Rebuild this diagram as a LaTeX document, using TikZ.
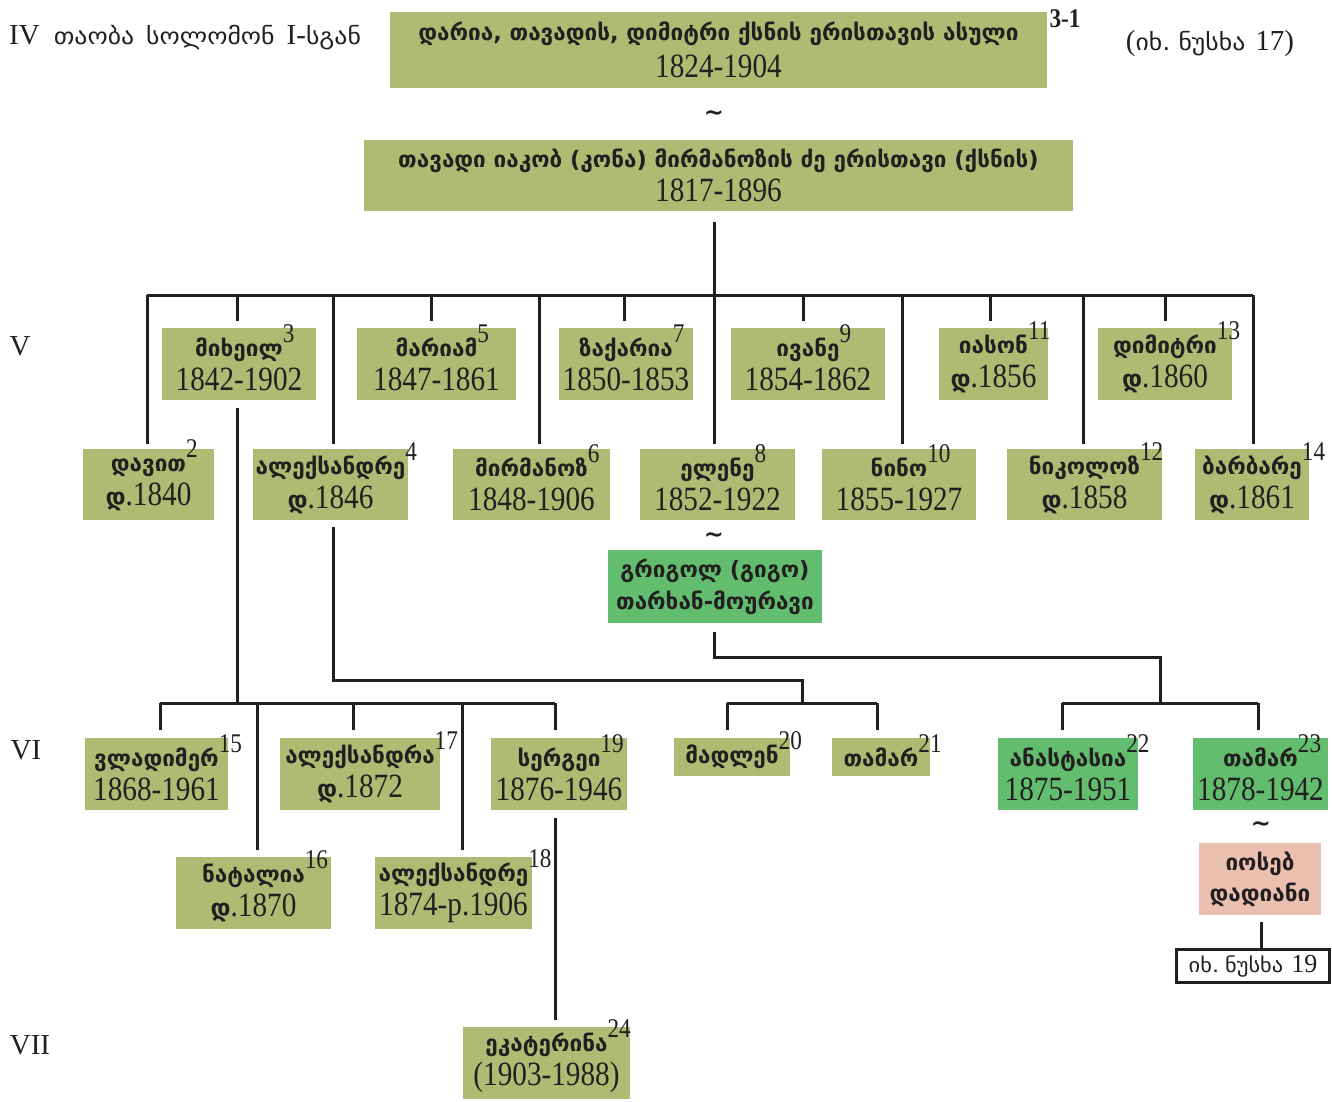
\documentclass[tikz,border=0pt]{standalone}
\usepackage{fontspec}
\setmainfont{Liberation Serif}
\newfontfamily\dig{Liberation Serif}[FakeStretch=0.86]
\newfontfamily\geo{DejaVu Sans}
\newfontfamily\geow{DejaVu Sans}[FakeStretch=1.12]
\definecolor{olv}{RGB}{174,187,114}
\definecolor{grn}{RGB}{98,189,110}
\definecolor{pnk}{RGB}{236,192,176}
\definecolor{ink}{RGB}{35,31,32}
\newcommand\gn[1]{{\geo\bfseries\fontsize{22.5}{34}\selectfont #1}}
\newcommand\gd{{\geo\bfseries\fontsize{24}{34}\selectfont დ}}
\newcommand\nm[2]{\gn{#1}\rlap{\smash{\raisebox{14pt}{\dig\fontsize{27}{27}\selectfont #2}}}}
\tikzset{
  pbox/.style={rectangle, fill=olv, inner sep=0pt, align=center, text=ink,
    font=\dig\fontsize{34}{34}\selectfont},
  gbox/.style={pbox, fill=grn},
  kbox/.style={pbox, fill=pnk},
  lnk/.style={draw=ink, line width=3pt},
  gen/.style={font=\fontsize{29}{29}\selectfont, text=ink, inner sep=0pt},
  tld/.style={font=\geo\bfseries\fontsize{24}{24}\selectfont, text=ink, inner sep=0pt},
  sup/.style={font=\dig\bfseries\fontsize{27}{27}\selectfont, text=ink, inner sep=0pt}
}
\begin{document}
\begin{tikzpicture}[x=1pt,y=-1pt]
\useasboundingbox (0,0) rectangle (1332,1101);
% header texts
\node[gen, anchor=west] (hl) at (9,38) {IV\hspace{14pt}{\geow\fontsize{23}{23}\selectfont თაობა\hspace{12pt}სოლომონ}\hspace{12pt}I-{\geow\fontsize{23}{23}\selectfont სგან}};
\node[gen, anchor=center] (hr) at (1210,44) {({\geow\fontsize{23}{23}\selectfont იხ.\hspace{8pt}ნუსხა}\hspace{10pt}17)};
% generations
\node[gen] (gV) at (20,346) {V};
\node[gen] (gVI) at (26,750) {VI};
\node[gen] (gVII) at (30,1045) {VII};
% top couple
\node[pbox, minimum width=657, minimum height=76] (t1) at (718.5,50) {\gn{დარია, თავადის, დიმიტრი ქსნის ერისთავის ასული}\\[3pt]1824-1904};
\node[sup] (t1n) at (1065,19) {3-1};
\node[tld] (tl1) at (714,116) {\textasciitilde};
\node[pbox, minimum width=709, minimum height=71] (t2) at (718.5,175.5) {\gn{თავადი იაკობ (კონა) მირმანოზის ძე ერისთავი (ქსნის)}\\1817-1896};
% generation V, upper row
\node[pbox, minimum width=154, minimum height=72] (p3) at (239,364) {\nm{მიხეილ}{3}\\1842-1902};
\node[pbox, minimum width=159, minimum height=72] (p5) at (436.5,364) {\nm{მარიამ}{5}\\1847-1861};
\node[pbox, minimum width=134, minimum height=72] (p7) at (626,364) {\nm{ზაქარია}{7}\\1850-1853};
\node[pbox, minimum width=154, minimum height=72] (p9) at (808,364) {\nm{ივანე}{9}\\1854-1862};
\node[pbox, minimum width=109, minimum height=72] (p11) at (993.5,364) {\nm{იასონ}{11}\\\gd.1856};
\node[pbox, minimum width=134, minimum height=72] (p13) at (1165,364) {\nm{დიმიტრი}{13}\\\gd.1860};
% generation V, lower row
\node[pbox, minimum width=131, minimum height=71] (p2) at (148.5,484.5) {\nm{დავით}{2}\\\gd.1840};
\node[pbox, minimum width=155, minimum height=71] (p4) at (330.5,484.5) {\nm{ალექსანდრე}{4}\\\gd.1846};
\node[pbox, minimum width=157, minimum height=71] (p6) at (531.5,484.5) {\nm{მირმანოზ}{6}\\1848-1906};
\node[pbox, minimum width=155, minimum height=71] (p8) at (717.5,484.5) {\nm{ელენე}{8}\\1852-1922};
\node[pbox, minimum width=154, minimum height=71] (p10) at (899,484.5) {\nm{ნინო}{10}\\1855-1927};
\node[pbox, minimum width=155, minimum height=71] (p12) at (1084.5,484.5) {\nm{ნიკოლოზ}{12}\\\gd.1858};
\node[pbox, minimum width=114, minimum height=71] (p14) at (1252,484.5) {\nm{ბარბარე}{14}\\\gd.1861};
\node[tld] (tl2) at (714,538) {\textasciitilde};
\node[gbox, minimum width=214, minimum height=73, font=\fontsize{23}{32}\selectfont] (g) at (715,586.5) {\gn{გრიგოლ (გიგო)}\\\gn{თარხან-მოურავი}};
% generation VI
\node[pbox, minimum width=143, minimum height=72] (p15) at (156.5,774) {\nm{ვლადიმერ}{15}\\1868-1961};
\node[pbox, minimum width=160, minimum height=72] (p17) at (360,774) {\nm{ალექსანდრა}{17}\\\gd.1872};
\node[pbox, minimum width=136, minimum height=72] (p19) at (559,774) {\nm{სერგეი}{19}\\1876-1946};
\node[pbox, minimum width=116, minimum height=38] (p20) at (732,757) {\nm{მადლენ}{20}};
\node[pbox, minimum width=98, minimum height=38] (p21) at (881,757) {\nm{თამარ}{21}};
\node[gbox, minimum width=140, minimum height=72] (p22) at (1068,774) {\nm{ანასტასია}{22}\\1875-1951};
\node[gbox, minimum width=135, minimum height=72] (p23) at (1260.5,774) {\nm{თამარ}{23}\\1878-1942};
\node[pbox, minimum width=155, minimum height=72] (p16) at (253.5,893) {\nm{ნატალია}{16}\\\gd.1870};
\node[pbox, minimum width=157, minimum height=72] (p18) at (453.5,893) {\nm{ალექსანდრე}{18}\\1874-p.1906};
\node[tld] (tl3) at (1261,827) {\textasciitilde};
\node[kbox, minimum width=122, minimum height=72, font=\fontsize{23}{31}\selectfont] (jd) at (1260,879) {\gn{იოსებ}\\\gn{დადიანი}};
\node[draw=ink, line width=3pt, fill=white, minimum width=153, minimum height=33, inner sep=0pt, text=ink,
  font=\fontsize{26}{26}\selectfont] (ref) at (1253,966) {{\geow\fontsize{20}{20}\selectfont იხ.\hspace{6pt}ნუსხა}\hspace{8pt}19};
% generation VII
\node[pbox, minimum width=167, minimum height=72] (p24) at (546.5,1063) {\nm{ეკატერინა}{24}\\(1903-1988)};

% connectors: main family
\coordinate (bar) at (714,295);
\draw[lnk] ([yshift=-11pt]t2.south -| bar) -- (bar);
\draw[lnk] (147,295) coordinate (barL) -- (1253,295) coordinate (barR);
\foreach \p/\x in {p3/237,p5/431,p7/624,p9/803,p11/990,p13/1165}{
  \draw[lnk] (\x,295) -- ([yshift=7pt]\p.north -| \x,0);
}
\foreach \p/\x in {p2/147,p4/333,p6/539,p8/714,p10/902,p12/1083,p14/1253}{
  \draw[lnk] (\x,295) -- ([yshift=5pt]\p.north -| \x,0);
}
% Mikheil's children
\coordinate (mk) at (237,703);
\draw[lnk] ([yshift=-8pt]p3.south -| mk) -- (mk);
\draw[lnk] (160,703) -- (555,703);
\foreach \p/\x in {p15/160,p17/353,p19/555}{
  \draw[lnk] (\x,703) -- ([yshift=8pt]\p.north -| \x,0);
}
\foreach \p/\x in {p16/257,p18/462}{
  \draw[lnk] (\x,703) -- ([yshift=7pt]\p.north -| \x,0);
}
% Aleksandre's children
\draw[lnk] ([yshift=-7pt]p4.south -| 333,0) -- (333,680) -- (802,680) -- (802,703);
\draw[lnk] (727,703) -- (877,703);
\draw[lnk] (727,703) -- ([yshift=8pt]p20.north -| 727,0);
\draw[lnk] (877,703) -- ([yshift=8pt]p21.north -| 877,0);
% Grigol & Elene's children
\draw[lnk] ([yshift=-9pt]g.south -| 714,0) -- (714,657) -- (1160,657) -- (1160,703);
\draw[lnk] (1062,703) -- (1258,703);
\draw[lnk] (1062,703) -- ([yshift=8pt]p22.north -| 1062,0);
\draw[lnk] (1258,703) -- ([yshift=8pt]p23.north -| 1258,0);
% Sergei's daughter
\draw[lnk] ([yshift=-8pt]p19.south -| 555,0) -- ([yshift=7pt]p24.north -| 555,0);
% Ioseb
\draw[lnk] ([yshift=-7pt]jd.south -| 1261,0) -- (ref.north -| 1261,0);
\end{tikzpicture}
\end{document}
